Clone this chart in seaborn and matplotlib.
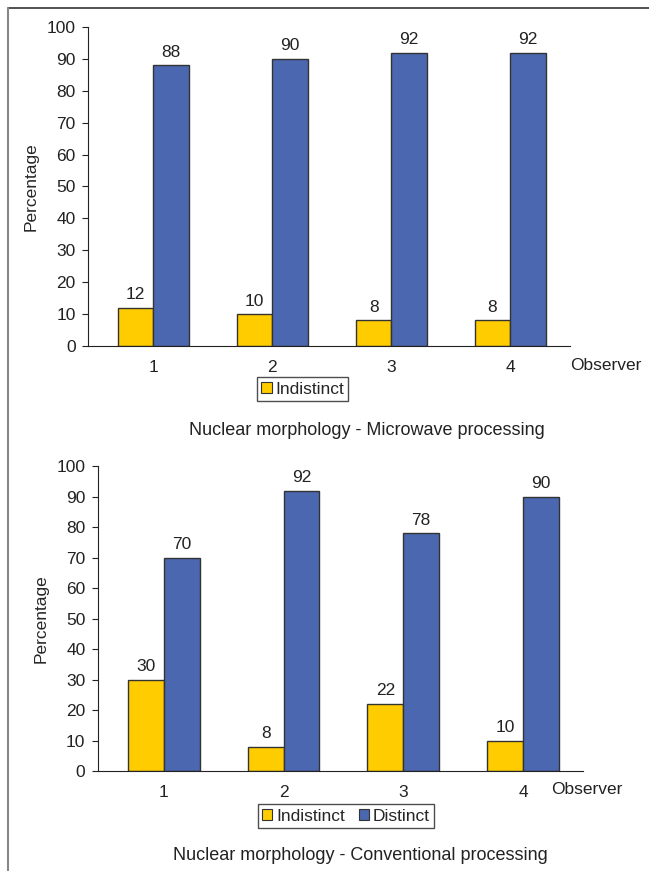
import numpy as np
import pandas as pd
import matplotlib
matplotlib.use("Agg")
import matplotlib.pyplot as plt
from matplotlib.lines import Line2D
from matplotlib.patches import Patch
import seaborn as sns

# Data
observers = ["1", "2", "3", "4"]
microwave_indistinct = [12, 10, 8, 8]
microwave_distinct = [88, 90, 92, 92]
conventional_indistinct = [30, 8, 22, 10]
conventional_distinct = [70, 92, 78, 90]
yticks = list(range(0, 101, 10))

YELLOW = "#FFCC00"
BLUE = "#4A67B0"
EDGE = "#333333"

sns.set_style("white")
plt.rcParams["font.family"] = ["Liberation Sans", "DejaVu Sans"]
plt.rcParams["font.size"] = 12


def make_df(indistinct, distinct):
    return pd.DataFrame({
        "Observer": observers * 2,
        "Percentage": indistinct + distinct,
        "Morphology": ["Indistinct"] * 4 + ["Distinct"] * 4,
    })


def draw_panel(ax, df, legend_labels, legend_pos, obs_x):
    sns.barplot(data=df, x="Observer", y="Percentage", hue="Morphology",
                hue_order=["Indistinct", "Distinct"],
                palette={"Indistinct": YELLOW, "Distinct": BLUE},
                saturation=1, width=0.6, edgecolor=EDGE, linewidth=1.0, ax=ax,
                legend=False, errorbar=None)
    for cont in ax.containers:
        ax.bar_label(cont, fmt="%d", padding=4, fontsize=12.5, color="#222222")
    ax.set_ylim(0, 100)
    ax.set_xlim(-0.55, 3.5)
    ax.set_yticks(yticks)
    ax.tick_params(axis="y", direction="out", length=4, width=0.8, pad=5,
                   left=True, labelsize=12.5, colors="#222222")
    ax.tick_params(axis="x", length=0, pad=10, labelsize=12.5, colors="#222222")
    sns.despine(ax=ax)
    ax.spines["left"].set_color("#222222")
    ax.spines["bottom"].set_color("#222222")
    ax.set_xlabel("")
    ax.set_ylabel("Percentage", fontsize=12.5, labelpad=6)
    ax.text(obs_x, -0.062, "Observer", transform=ax.transAxes,
            ha="left", va="center", fontsize=12.5, color="#222222")
    colors = {"Indistinct": YELLOW, "Distinct": BLUE}
    handles = [Patch(facecolor=colors[l], edgecolor=EDGE, linewidth=0.8, label=l)
               for l in legend_labels]
    leg = ax.legend(handles=handles, loc="center", bbox_to_anchor=legend_pos,
                    bbox_transform=ax.transAxes, ncol=len(handles),
                    frameon=True, fancybox=False, handlelength=0.6,
                    handleheight=0.6, handletextpad=0.2, columnspacing=0.8,
                    borderpad=0.25, fontsize=12.5)
    leg.get_frame().set_edgecolor("#222222")
    leg.get_frame().set_linewidth(1.0)


fig = plt.figure(figsize=(6.49, 8.71), dpi=100)

ax1 = fig.add_axes([0.1356, 0.6028, 0.7425, 0.3662])
draw_panel(ax1, make_df(microwave_indistinct, microwave_distinct),
           ["Indistinct"], (0.445, -0.135), 1.0)

ax2 = fig.add_axes([0.151, 0.1148, 0.747, 0.350])
draw_panel(ax2, make_df(conventional_indistinct, conventional_distinct),
           ["Indistinct", "Distinct"], (0.511, -0.148), 0.934)

fig.text(0.565, 0.506, "Nuclear morphology - Microwave processing",
         ha="center", va="center", fontsize=13, color="#222222")
fig.text(0.555, 0.018, "Nuclear morphology - Conventional processing",
         ha="center", va="center", fontsize=13, color="#222222")

# outer frame lines
fig.add_artist(Line2D([8 / 649, 1.0], [1 - 8 / 871, 1 - 8 / 871],
                      color="#333333", linewidth=1.2, transform=fig.transFigure))
fig.add_artist(Line2D([8 / 649, 8 / 649], [0.0, 1 - 8 / 871],
                      color="#888888", linewidth=1.5, transform=fig.transFigure))

fig.savefig("out.png", dpi=100)
